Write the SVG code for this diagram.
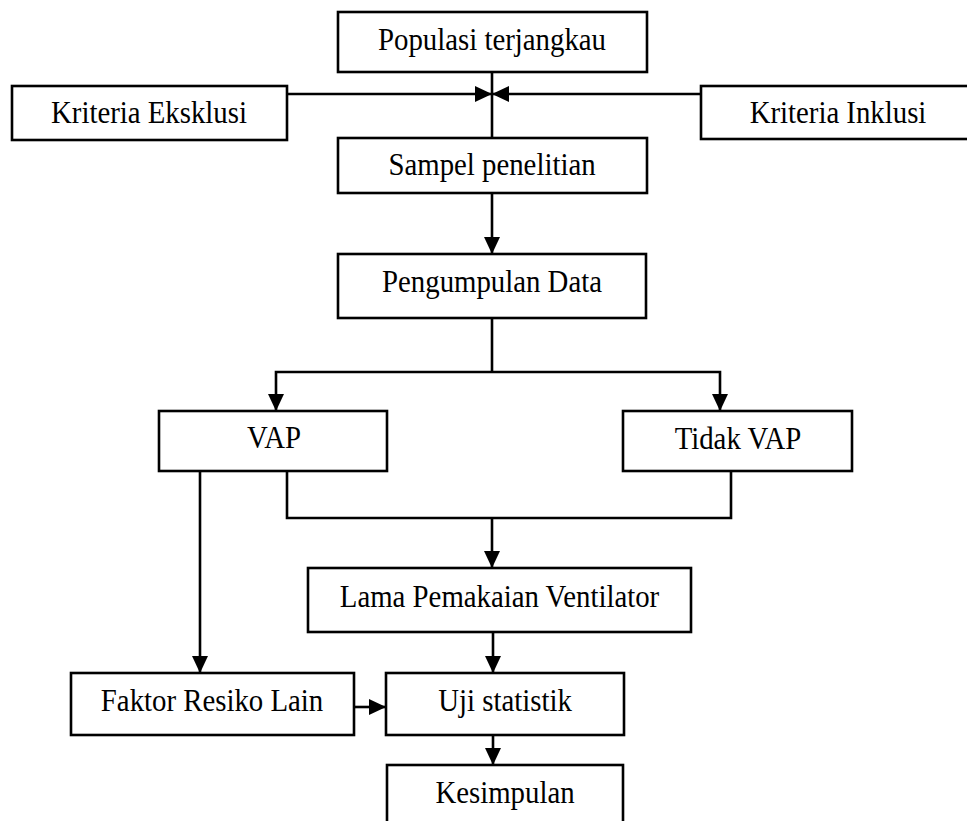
<svg xmlns="http://www.w3.org/2000/svg" width="967" height="821" viewBox="0 0 967 821">
<style>
.box{fill:#fff;stroke:#000;stroke-width:2.6}
.t{font-family:"Liberation Serif","Times New Roman",serif;font-size:32px;fill:#000;text-anchor:middle}
.c{fill:none;stroke:#000;stroke-width:2.6}
</style>
<defs>
<marker id="ah" markerUnits="userSpaceOnUse" markerWidth="17" markerHeight="17" viewBox="0 0 17 17" refX="17" refY="8.5" orient="auto">
<path d="M0,0.5 L17,8.5 L0,16.5 z" fill="#000"/>
</marker>
</defs>
<rect width="967" height="821" fill="#fff"/>
<g id="connectors">
<line class="c" x1="492" y1="72" x2="492" y2="138"/>
<line class="c" x1="287" y1="94" x2="492" y2="94" marker-end="url(#ah)"/>
<line class="c" x1="701" y1="94" x2="492" y2="94" marker-end="url(#ah)"/>
<line class="c" x1="492" y1="193" x2="492" y2="254" marker-end="url(#ah)"/>
<line class="c" x1="492" y1="318" x2="492" y2="372"/>
<polyline class="c" points="492,372 276,372 276,411" marker-end="url(#ah)"/>
<polyline class="c" points="492,372 720,372 720,411" marker-end="url(#ah)"/>
<polyline class="c" points="287,471 287,518 731,518 731,471"/>
<line class="c" x1="492" y1="518" x2="492" y2="568" marker-end="url(#ah)"/>
<line class="c" x1="200" y1="471" x2="200" y2="673" marker-end="url(#ah)"/>
<line class="c" x1="493" y1="632" x2="493" y2="673" marker-end="url(#ah)"/>
<line class="c" x1="354" y1="707" x2="386" y2="707" marker-end="url(#ah)"/>
<line class="c" x1="493" y1="735" x2="493" y2="765" marker-end="url(#ah)"/>
</g>
<g id="populasi"><rect class="box" x="338" y="12" width="309" height="60"/><text class="t" transform="translate(492,50) scale(0.9,1)">Populasi terjangkau</text></g>
<g id="eksklusi"><rect class="box" x="12" y="86" width="275" height="54"/><text class="t" transform="translate(149,123) scale(0.9,1)">Kriteria Eksklusi</text></g>
<g id="inklusi"><rect class="box" x="701" y="86" width="280" height="53"/><text class="t" transform="translate(838,123) scale(0.9,1)">Kriteria Inklusi</text></g>
<g id="sampel"><rect class="box" x="338" y="138" width="309" height="55"/><text class="t" transform="translate(492,175) scale(0.9,1)">Sampel penelitian</text></g>
<g id="pengumpulan"><rect class="box" x="338" y="254" width="308" height="64"/><text class="t" transform="translate(492,292) scale(0.9,1)">Pengumpulan Data</text></g>
<g id="vap"><rect class="box" x="159" y="411" width="228" height="60"/><text class="t" transform="translate(274,448) scale(0.9,1)">VAP</text></g>
<g id="tidakvap"><rect class="box" x="623" y="411" width="229" height="60"/><text class="t" transform="translate(738,449) scale(0.9,1)">Tidak VAP</text></g>
<g id="lama"><rect class="box" x="308" y="568" width="383" height="64"/><text class="t" transform="translate(499.5,607) scale(0.9,1)">Lama Pemakaian Ventilator</text></g>
<g id="faktor"><rect class="box" x="71" y="673" width="283" height="62"/><text class="t" transform="translate(212,711) scale(0.9,1)">Faktor Resiko Lain</text></g>
<g id="uji"><rect class="box" x="386" y="673" width="238" height="62"/><text class="t" transform="translate(505,711) scale(0.9,1)">Uji statistik</text></g>
<g id="kesimpulan"><rect class="box" x="387" y="765" width="236" height="70"/><text class="t" transform="translate(505,803) scale(0.9,1)">Kesimpulan</text></g>
</svg>
